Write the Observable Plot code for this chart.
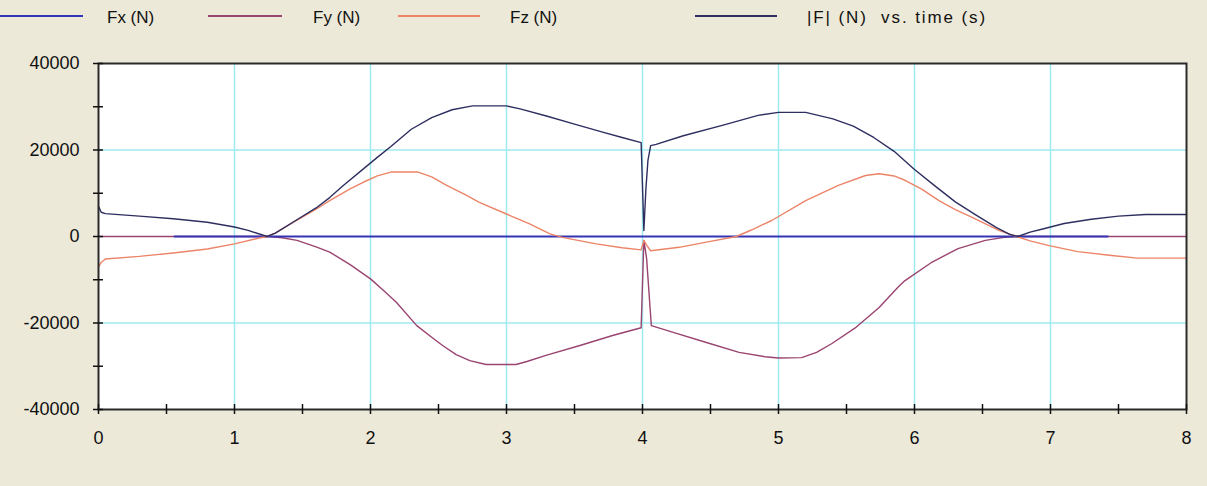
<!DOCTYPE html>
<html><head><meta charset="utf-8">
<script src="https://cdn.jsdelivr.net/npm/d3@7"></script>
<script src="https://cdn.jsdelivr.net/npm/@observablehq/plot@0.6"></script>
<style>
html,body{margin:0;padding:0;background:#ECE9D8;}
#wrap{position:relative;width:1207px;height:486px;overflow:hidden;font-family:"Liberation Sans",Arial,sans-serif;}
#legend{position:relative;height:40px;}
.sw{position:absolute;top:15px;height:2px;}
.lb{position:absolute;top:8px;line-height:20px;font-size:17px;color:#111;white-space:pre;}
</style></head><body><div id="wrap"><div id="legend"></div><div id="chart"></div></div>
<script>
// ---- data (time in s, force in N) ----
const seriesNames = ["Fx (N)", "Fy (N)", "Fz (N)", "|F| (N)  vs. time (s)"];
const seriesColors = ["#3434B4", "#9A4470", "#EC8468", "#2E2E60"];

const fxTime = [0.56, 7.42];
const fxVal = [0, 0];

const fyTime = [0, 1.25, 1.35, 1.46, 1.6, 1.7, 1.85, 2.0, 2.1, 2.19, 2.34, 2.45, 2.53, 2.63, 2.73, 2.85, 3.07, 3.15, 3.29, 3.54, 3.78, 3.99, 4.0, 4.01, 4.03, 4.05, 4.065, 4.22, 4.47, 4.71, 4.9, 5.0, 5.17, 5.28, 5.39, 5.57, 5.74, 5.88, 5.93, 6.13, 6.32, 6.52, 6.66, 6.75, 8.0];
const fyVal = [0, 0, -300, -900, -2400, -3600, -6500, -9800, -12600, -15200, -20600, -23300, -25200, -27300, -28700, -29600, -29600, -28900, -27500, -25200, -22900, -21100, -11000, -900, -5000, -14000, -20600, -22100, -24500, -26800, -27800, -28100, -28000, -26800, -24800, -21000, -16400, -11700, -10200, -5900, -2800, -900, -200, 0, 0];

const fzTime = [0, 0.02, 0.05, 0.3, 0.55, 0.8, 1.0, 1.19, 1.24, 1.3, 1.45, 1.6, 1.7, 1.85, 1.95, 2.05, 2.15, 2.35, 2.45, 2.56, 2.7, 2.8, 3.0, 3.17, 3.32, 3.41, 3.66, 3.85, 3.99, 4.01, 4.03, 4.06, 4.27, 4.47, 4.69, 4.8, 4.95, 5.2, 5.44, 5.64, 5.74, 5.85, 5.93, 6.05, 6.18, 6.3, 6.42, 6.62, 6.75, 6.85, 6.99, 7.2, 7.45, 7.64, 8.0];
const fzVal = [-7000, -6000, -5200, -4600, -3800, -2900, -1700, -300, 0, 800, 3600, 6300, 8300, 11000, 12600, 14000, 14900, 14900, 13800, 11800, 9600, 7900, 5200, 2900, 600, -200, -1700, -2600, -3100, -900, -2000, -3300, -2500, -1300, 0, 1500, 3700, 8300, 11800, 14100, 14500, 14000, 13000, 11000, 8300, 6200, 4500, 1400, 0, -1000, -2100, -3500, -4400, -5000, -5000];

const fmTime = [0, 0.02, 0.05, 0.3, 0.55, 0.8, 1.0, 1.1, 1.2, 1.24, 1.3, 1.45, 1.6, 1.7, 1.8, 1.95, 2.05, 2.15, 2.3, 2.45, 2.6, 2.75, 3.0, 3.1, 3.3, 3.5, 3.7, 3.85, 3.99, 4.0, 4.01, 4.025, 4.04, 4.06, 4.1, 4.3, 4.6, 4.85, 5.0, 5.2, 5.4, 5.55, 5.7, 5.85, 6.0, 6.15, 6.3, 6.45, 6.6, 6.7, 6.76, 6.85, 6.95, 7.1, 7.3, 7.5, 7.7, 8.0];
const fmVal = [7000, 5600, 5300, 4700, 4100, 3300, 2200, 1400, 400, 0, 800, 3700, 6600, 9000, 11800, 15700, 18300, 20800, 24800, 27500, 29300, 30200, 30200, 29500, 27800, 26000, 24200, 22900, 21700, 11500, 1400, 11000, 17600, 21000, 21300, 23300, 25800, 28000, 28700, 28700, 27200, 25500, 22900, 19700, 15500, 11700, 8000, 5000, 2100, 500, 0, 1000, 1800, 3000, 4000, 4700, 5100, 5100];

const xTickLabels = [0, 1, 2, 3, 4, 5, 6, 7, 8];
const xMinorTicks = [0, 0.5, 1, 1.5, 2, 2.5, 3, 3.5, 4, 4.5, 5, 5.5, 6, 6.5, 7, 7.5, 8];
const yTickLabels = [-40000, -20000, 0, 20000, 40000];
const yMinorTicks = [-40000, -30000, -20000, -10000, 0, 10000, 20000, 30000, 40000];
const xGrid = [1, 2, 3, 4, 5, 6, 7];
const yGrid = [-20000, 20000];

// ---- legend ----
const legend = document.getElementById("legend");
const swX = [[0, 83], [208, 282], [398, 480], [695, 777]];
const lbX = [107, 313, 510, 807];
const lbSpacing = [0, 0, 0, 1.9];
seriesNames.forEach((name, i) => {
  const s = document.createElement("div");
  s.className = "sw";
  s.style.left = swX[i][0] + "px";
  s.style.width = (swX[i][1] - swX[i][0]) + "px";
  s.style.background = seriesColors[i];
  legend.appendChild(s);
  const l = document.createElement("div");
  l.className = "lb";
  l.style.left = lbX[i] + "px";
  l.style.letterSpacing = lbSpacing[i] + "px";
  l.textContent = name;
  legend.appendChild(l);
});

const mk = (t, v) => t.map((x, i) => ({t: x, v: v[i]}));
const fx = mk(fxTime, fxVal), fy = mk(fyTime, fyVal), fz = mk(fzTime, fzVal), fm = mk(fmTime, fmVal);

const chart = Plot.plot({
  width: 1207,
  height: 446,
  marginLeft: 98,
  marginRight: 21,
  marginTop: 23,
  marginBottom: 77,
  style: {background: "transparent", fontFamily: "'Liberation Sans', Arial, sans-serif", fontSize: "18px", color: "#111"},
  x: {domain: [0, 8], label: null},
  y: {domain: [-40000, 40000], label: null},
  marks: [
    Plot.frame({fill: "white", stroke: "none"}),
    Plot.gridX(xGrid, {stroke: "#9FEAEE", strokeOpacity: 1, strokeWidth: 1.5}),
    Plot.gridY(yGrid, {stroke: "#9FEAEE", strokeOpacity: 1, strokeWidth: 1.5}),
    Plot.line(fy, {x: "t", y: "v", stroke: seriesColors[1], strokeWidth: 1.4}),
    Plot.line(fx, {x: "t", y: "v", stroke: seriesColors[0], strokeWidth: 2.2}),
    Plot.line(fz, {x: "t", y: "v", stroke: seriesColors[2], strokeWidth: 1.4}),
    Plot.line(fm, {x: "t", y: "v", stroke: seriesColors[3], strokeWidth: 1.4}),
    Plot.frame({stroke: "#2a2a2a", strokeWidth: 2}),
    Plot.ruleY(yMinorTicks, {y: d => d, x1: 0, x2: 0, insetLeft: -5, insetRight: -5, stroke: "#111", strokeWidth: 1.5}),
    Plot.ruleX(xMinorTicks, {x: d => d, y1: -40000, y2: -40000, insetTop: -5, insetBottom: -5, stroke: "#111", strokeWidth: 1.5}),
    Plot.axisY(yTickLabels, {tickSize: 0, tickPadding: 19, tickFormat: d => String(d), fontSize: 18, label: null}),
    Plot.axisX(xTickLabels, {tickSize: 0, tickPadding: 22, tickFormat: d => String(d), fontSize: 18, label: null})
  ]
});
document.getElementById("chart").appendChild(chart);
</script></body></html>
